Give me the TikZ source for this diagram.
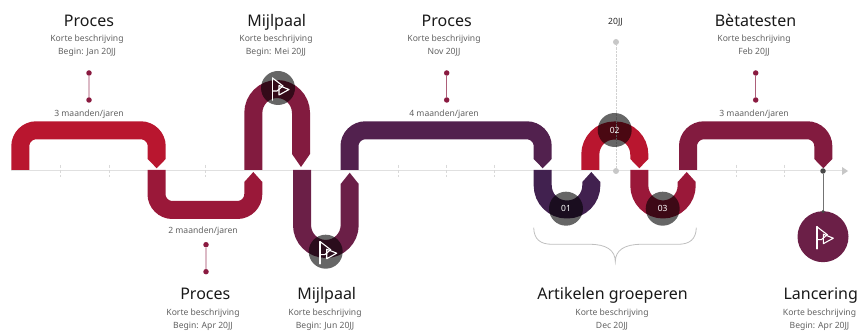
\documentclass[tikz,border=0pt]{standalone}
\usepackage{fontspec}
\setmainfont{Noto Sans}
\usetikzlibrary{arrows.meta}
\definecolor{ribbonA}{HTML}{B9162F}
\definecolor{ribbonB}{HTML}{9A1839}
\definecolor{ribbonC}{HTML}{821B3F}
\definecolor{ribbonD}{HTML}{6B1F47}
\definecolor{ribbonE}{HTML}{52214E}
\definecolor{ribbonF}{HTML}{41214F}
\definecolor{dotcolor}{HTML}{8A1A40}
\begin{document}
\begin{tikzpicture}[
  x=1pt, y=-1pt,
  ribbon/.style={line width=18pt},
  heading/.style={font=\fontsize{16}{16}\selectfont, text=black!90, inner sep=0pt, text height=11.5pt, text depth=3.5pt},
  info/.style={font=\fontsize{8.6}{13}\selectfont, text=black!62, align=center, inner sep=0pt},
  span/.style={font=\fontsize{8.6}{9}\selectfont, text=black!62, inner sep=0pt, text height=6.5pt, text depth=2pt},
  badge/.style={circle, minimum size=34pt, inner sep=0pt, fill=black, fill opacity=.6, text opacity=1, text=white, font=\fontsize{8.5}{9}\selectfont},
  stemdot/.style={circle, minimum size=5.5pt, inner sep=0pt, fill=dotcolor},
  greydot/.style={circle, minimum size=6pt, inner sep=0pt, fill=black!22},
  flagicon/.pic={
    \draw[white, line width=1.8pt, line cap=round] (-5.5,-10) -- (-5.5,12);
    \draw[white, line width=1.1pt, line join=round] (-5.5,-10) -- (5,-2) -- (-1,3) -- (-5.5,3);
    \draw[white, line width=1.1pt, line join=round] (1,-2.5) -- (11,1.5) -- (1,7) -- cycle;
  }
]
  \useasboundingbox (0,0) rectangle (861,336);

  % time axis
  \draw[black!12, line width=1pt] (11,171) -- (843,171);
  \fill[black!22] (842,167) -- (848,171) -- (842,175) -- cycle;
  \foreach \x in {60.5,109,205,398,446.5,494,736,784}
    \draw[black!15, densely dashed] (\x,165) -- (\x,177);

  % ribbons
  \draw[ribbon, ribbonA, rounded corners=16pt] (20.3,170) -- (20.3,130.3) -- (156.7,130.3) -- (156.7,159);
  \draw[ribbon, ribbonB, rounded corners=16pt] (156.5,170) -- (156.5,210) -- (253.3,210) -- (253.3,182);
  \draw[ribbon, ribbonC, rounded corners=24pt] (253.3,170) -- (253.3,89) -- (301,89) -- (301,154);
  \draw[ribbon, ribbonD, rounded corners=24pt] (302,170) -- (302,249) -- (349.7,249) -- (349.7,184);
  \draw[ribbon, ribbonE, rounded corners=16pt] (349.5,170) -- (349.5,130.3) -- (542.7,130.3) -- (542.7,159);
  \draw[ribbon, ribbonF, rounded corners=24pt] (542.7,170) -- (542.7,209.5) -- (591.3,209.5) -- (591.3,182);
  \draw[ribbon, ribbonA, rounded corners=24pt] (590.3,170) -- (590.3,130.5) -- (639.3,130.5) -- (639.3,159);
  \draw[ribbon, ribbonB, rounded corners=24pt] (639.3,170) -- (639.3,209.5) -- (686.7,209.5) -- (686.7,182);
  \draw[ribbon, ribbonC, rounded corners=16pt] (688,170) -- (688,130.3) -- (823.3,130.3) -- (823.3,159);

  % ribbon tips
  \foreach \x/\ya/\yb/\c in {156.7/159/168.3/ribbonA, 301/154/167/ribbonC, 542.7/159/168.3/ribbonE, 639.3/159/168.3/ribbonA, 823.3/159/168.3/ribbonC,
                             253.3/182/172/ribbonB, 349.7/184/172.7/ribbonD, 591.3/182/172/ribbonF, 686.7/182/172/ribbonB}
    \fill[\c] (\x-9,\ya) -- (\x+9,\ya) -- (\x,\yb) -- cycle;

  % stems above and below the ribbons
  \foreach \x/\ya/\yb/\n in {89/73/100/a, 206/244.7/271.7/b, 446.7/73/100/c, 755.7/73/100/d} {
    \node[stemdot] (top\n) at (\x,\ya) {};
    \node[stemdot] (bot\n) at (\x,\yb) {};
  }
  \draw[dotcolor!30, line width=1.5pt] (topa) -- (bota);
  \draw[dotcolor!30, line width=1.5pt] (topb) -- (botb);
  \draw[dotcolor!70, line width=.8pt] (topc) -- (botc);
  \draw[dotcolor!70, line width=.8pt] (topd) -- (botd);

  % year marker
  \node[greydot] (yeartop) at (616,42) {};
  \node[greydot] (yearbot) at (616,171) {};
  \draw[black!18, densely dotted] (yeartop) -- (yearbot);
  \node[span, text=black!85] (year) at (615.5,22) {20JJ};

  % badges
  \node[badge] (flagup) at (278,88) {};
  \node[badge] (flagdown) at (325.7,251.7) {};
  \node[badge] (stepone) at (566,208.7) {01};
  \node[badge] (steptwo) at (614.7,130) {02};
  \node[badge] (stepthree) at (662.7,208.7) {03};
  \pic at (278,88) {flagicon};
  \pic at (325.7,251.7) {flagicon};

  % launch marker
  \node[circle, minimum size=51pt, inner sep=0pt, fill=ribbonD] (launch) at (823,236.7) {};
  \pic at (822.3,236.7) {flagicon};
  \node[circle, minimum size=5.5pt, inner sep=0pt, fill=black!72] (launchdot) at (823,171) {};
  \node[circle, minimum size=3.5pt, inner sep=0pt, fill=black!72] (launchend) at (823,211.5) {};
  \draw[black!55, line width=.8pt] (launchdot) -- (launchend);

  % brace
  \draw[black!25, line width=.8pt] (533.7,227.7) .. controls (534,239) and (540,244.3) .. (552,244.3) -- (590,244.3)
    .. controls (606,244.3) and (615.3,250) .. (615.3,261.7) .. controls (615.3,250) and (625,244.3) .. (641,244.3) -- (678,244.3)
    .. controls (690,244.3) and (696,239) .. (696.3,227.7);

  % durations
  \node[span] (spanone) at (89,114) {3 maanden/jaren};
  \node[span] (spantwo) at (203,231) {2 maanden/jaren};
  \node[span] (spanthree) at (444,114) {4 maanden/jaren};
  \node[span] (spanfour) at (754,114) {3 maanden/jaren};

  % labels above
  \node[heading] (proca) at (89,23) {Proces};
  \node[info, anchor=north] (infoa) at (87,35) {Korte beschrijving\\Begin: Jan 20JJ};
  \node[heading] (milea) at (276.7,23) {Mijlpaal};
  \node[info, anchor=north] (infob) at (276,35) {Korte beschrijving\\Begin: Mei 20JJ};
  \node[heading] (procb) at (446.7,23) {Proces};
  \node[info, anchor=north] (infoc) at (444,35) {Korte beschrijving\\Nov 20JJ};
  \node[heading] (beta) at (755.5,23) {Bètatesten};
  \node[info, anchor=north] (infod) at (754,35) {Korte beschrijving\\Feb 20JJ};

  % labels below
  \node[heading] (procc) at (205.3,296) {Proces};
  \node[info, anchor=north] (infoe) at (203,308.5) {Korte beschrijving\\Begin: Apr 20JJ};
  \node[heading] (mileb) at (326.7,296) {Mijlpaal};
  \node[info, anchor=north] (infof) at (325,308.5) {Korte beschrijving\\Begin: Jun 20JJ};
  \node[heading] (group) at (612.5,296) {Artikelen groeperen};
  \node[info, anchor=north] (infog) at (612,308.5) {Korte beschrijving\\Dec 20JJ};
  \node[heading] (launchtext) at (820.7,296) {Lancering};
  \node[info, anchor=north] (infoh) at (819.5,308.5) {Korte beschrijving\\Begin: Apr 20JJ};
\end{tikzpicture}
\end{document}
